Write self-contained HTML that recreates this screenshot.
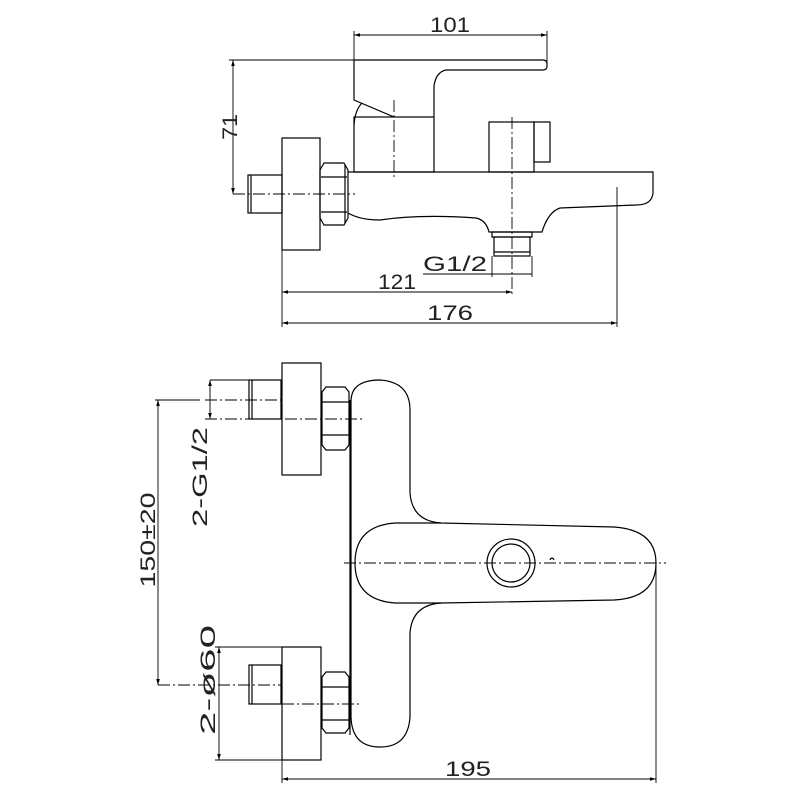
<!DOCTYPE html>
<html><head><meta charset="utf-8"><style>html,body{margin:0;padding:0;background:#fff}svg{display:block}</style></head>
<body>
<svg width="800" height="800" viewBox="0 0 800 800" xmlns="http://www.w3.org/2000/svg">
<defs>
<marker id="a" viewBox="0 0 10 6" refX="10" refY="3" markerWidth="8" markerHeight="4" orient="auto-start-reverse"><path d="M0,0 L10,3 L0,6 z" fill="#000"/></marker>
</defs>
<g fill="none" stroke="#000" stroke-width="1.2">
<path d="M354,60 L543,60 Q547,60 547,64 L547,66 Q547,70 543,70 L446,70 Q436,72 434,86 L434,117"/>
<path d="M354,60 L354,100 L394,117"/>
<path d="M362,103 Q355,110 354,125"/>
<rect x="354" y="117" width="80" height="55"/>
<path d="M348,172 L653,172 L653,193 Q652,205 636,205 L560,208 Q548,212 542,232 L489,232 Q486,220 476,218 Q420,214 380,220 Q360,220 348,213"/>
<path d="M324,163 L344,163 L348,170 L348,218 L344,225 L324,225 L320,218 L320,170 Z"/>
<line x1="321" y1="177" x2="347" y2="177"/><line x1="321" y1="212" x2="347" y2="212"/>
<line x1="345" y1="165" x2="345" y2="223"/>
<rect x="282" y="138" width="38" height="112"/>
<rect x="248" y="175" width="34" height="38"/>
<line x1="251" y1="175" x2="251" y2="213"/>
<rect x="489" y="122" width="45" height="50"/>
<rect x="534" y="122" width="16" height="40"/>
<rect x="492" y="232" width="40" height="5"/>
<rect x="494" y="237" width="36" height="19"/>
<line x1="494" y1="252" x2="530" y2="252"/>
</g>
<g fill="none" stroke="#000" stroke-width="0.9">
<line x1="354" y1="35" x2="547" y2="35" marker-start="url(#a)" marker-end="url(#a)"/>
<line x1="354" y1="31" x2="354" y2="100"/><line x1="547" y1="31" x2="547" y2="66"/>
<line x1="233" y1="60" x2="233" y2="194" marker-start="url(#a)" marker-end="url(#a)"/>
<line x1="229" y1="60" x2="354" y2="60"/>
<line x1="423" y1="274" x2="532" y2="274"/>
<line x1="492" y1="256" x2="492" y2="277"/><line x1="532" y1="256" x2="532" y2="277"/>
<line x1="282" y1="292" x2="512" y2="292" marker-start="url(#a)" marker-end="url(#a)"/>
<line x1="282" y1="323" x2="617" y2="323" marker-start="url(#a)" marker-end="url(#a)"/>
<line x1="282" y1="250" x2="282" y2="327"/><line x1="617" y1="187" x2="617" y2="327"/>
<g stroke-dasharray="12,3,2,3">
<line x1="233" y1="194" x2="355" y2="194"/>
<line x1="394" y1="100" x2="394" y2="177"/>
<line x1="512" y1="117" x2="512" y2="294"/>
</g>
</g>
<g fill="none" stroke="#000" stroke-width="1.2">
<rect x="282" y="363" width="39" height="112"/>
<rect x="249" y="380" width="32" height="39"/>
<line x1="252" y1="380" x2="252" y2="419"/>
<path d="M326,387 L345,387 L349,392 L349,445 L345,450 L326,450 L322,445 L322,392 Z"/>
<line x1="322" y1="402" x2="349" y2="402"/><line x1="322" y1="435" x2="349" y2="435"/>
<rect x="282" y="647" width="39" height="113"/>
<rect x="249" y="665" width="32" height="39"/>
<line x1="252" y1="665" x2="252" y2="704"/>
<path d="M326,672 L345,672 L349,677 L349,728 L345,733 L326,733 L322,728 L322,677 Z"/>
<line x1="322" y1="687" x2="349" y2="687"/><line x1="322" y1="720" x2="349" y2="720"/>
<line x1="350" y1="400" x2="350" y2="735"/>
<path d="M351,400 Q352,380 380,380 Q410,382 410,410 L410,493 Q412,521 441,523 L614,527 Q656,530 656,563 Q656,598 614,600 L441,603 Q412,605 410,633 L410,717 Q408,747 380,747 Q352,747 351,717 Z"/>
<path d="M441,523 L395,523 Q355,526 355,563 Q355,600 395,603 L441,603"/>
<circle cx="511" cy="563" r="24"/><circle cx="511" cy="563" r="19"/>
<path d="M550,560 Q552,556 554,560"/>
</g>
<g fill="none" stroke="#000" stroke-width="0.9">
<line x1="210" y1="380" x2="249" y2="380"/>
<line x1="210" y1="380" x2="210" y2="419" marker-start="url(#a)" marker-end="url(#a)"/>
<line x1="158" y1="400" x2="158" y2="685" marker-start="url(#a)" marker-end="url(#a)"/>
<line x1="155" y1="400" x2="200" y2="400"/>
<line x1="219" y1="647" x2="219" y2="760" marker-start="url(#a)" marker-end="url(#a)"/>
<line x1="215" y1="647" x2="282" y2="647"/><line x1="215" y1="760" x2="282" y2="760"/>
<line x1="282" y1="760" x2="282" y2="783"/><line x1="656" y1="563" x2="656" y2="783"/>
<line x1="282" y1="779" x2="656" y2="779" marker-start="url(#a)" marker-end="url(#a)"/>
<g stroke-dasharray="12,3,2,3">
<line x1="205" y1="400" x2="282" y2="400"/>
<line x1="205" y1="419" x2="365" y2="419"/>
<line x1="158" y1="685" x2="282" y2="685"/>
<line x1="282" y1="704" x2="362" y2="704"/>
<line x1="344" y1="563" x2="666" y2="563"/>
</g>
</g>
<g font-family="Liberation Sans, sans-serif" font-size="16" fill="#222">
<text transform="translate(450,32) scale(1,1.3)" text-anchor="middle" textLength="40" lengthAdjust="spacingAndGlyphs">101</text>
<text transform="translate(397,289) scale(1,1.3)" text-anchor="middle" textLength="38" lengthAdjust="spacingAndGlyphs">121</text>
<text transform="translate(423,271) scale(1,1.3)" textLength="64" lengthAdjust="spacingAndGlyphs">G1/2</text>
<text transform="translate(450,320) scale(1,1.3)" text-anchor="middle" textLength="46" lengthAdjust="spacingAndGlyphs">176</text>
<text transform="translate(468,776) scale(1,1.3)" text-anchor="middle" textLength="46" lengthAdjust="spacingAndGlyphs">195</text>
<text transform="translate(237,127) rotate(-90) scale(1,1.3)" text-anchor="middle" textLength="26" lengthAdjust="spacingAndGlyphs">71</text>
<text transform="translate(155,540) rotate(-90) scale(1,1.3)" text-anchor="middle" textLength="95" lengthAdjust="spacingAndGlyphs">150±20</text>
<text transform="translate(207,477) rotate(-90) scale(1,1.3)" text-anchor="middle" textLength="100" lengthAdjust="spacingAndGlyphs">2-G1/2</text>
<text transform="translate(215,680) rotate(-90) scale(1,1.3)" text-anchor="middle" textLength="110" lengthAdjust="spacingAndGlyphs">2-ø60</text>
</g>
</svg>
</body></html>
